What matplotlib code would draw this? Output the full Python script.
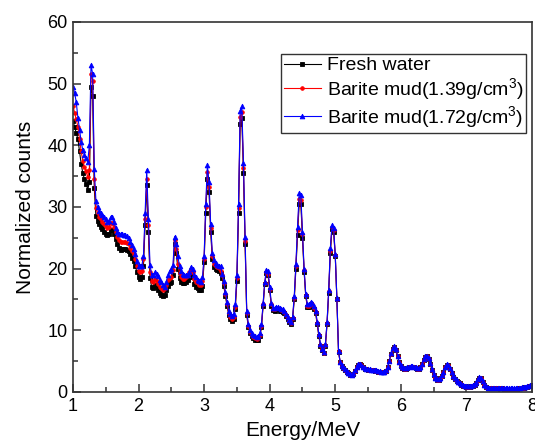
import numpy as np
import matplotlib
matplotlib.use("Agg")
import matplotlib.pyplot as plt
from matplotlib.ticker import MultipleLocator

plt.rcParams["font.family"] = ["Liberation Sans", "DejaVu Sans"]
plt.rcParams["mathtext.fontset"] = "custom"
plt.rcParams["mathtext.rm"] = "Liberation Sans"
plt.rcParams["mathtext.default"] = "regular"

# spectrum channels, 25 keV wide, from 1 to 8 MeV
E_START, E_STEP, N_CH = 1.0, 0.025, 281

fresh_water = [
    44.0, 43.0, 42.0, 41.0, 39.0, 37.0, 35.5, 34.5, 33.8, 32.8,
    34.0, 49.5, 48.0, 33.0, 28.5, 27.8, 27.2, 26.8, 26.4, 26.0,
    25.7, 25.4, 25.6, 26.2, 26.2, 25.6, 24.8, 24.0, 23.4, 23.1,
    23.2, 23.2, 23.2, 23.0, 22.8, 22.3, 21.8, 21.2, 20.5, 19.4,
    18.7, 18.4, 18.6, 20.5, 27.0, 33.5, 26.0, 18.5, 17.0, 16.8,
    17.3, 17.0, 16.5, 16.1, 15.8, 15.6, 15.8, 16.5, 17.2, 17.6,
    17.8, 19.0, 24.0, 22.5, 20.0, 18.5, 17.8, 17.6, 17.6, 17.8,
    18.2, 18.6, 19.2, 18.6, 17.5, 17.0, 16.8, 16.6, 16.6, 17.2,
    21.0, 29.0, 34.5, 32.5, 26.0, 21.5, 20.3, 20.0, 19.8, 19.6,
    19.3, 18.5, 17.2, 15.5, 14.0, 12.5, 11.8, 11.5, 11.8, 13.5,
    18.0, 29.0, 43.5, 44.5, 35.5, 24.0, 12.5, 10.5, 9.5, 9.0,
    8.7, 8.5, 8.4, 8.5, 9.0, 10.5, 14.0, 17.5, 19.3, 19.0,
    16.5, 14.0, 13.3, 13.2, 13.4, 13.4, 13.2, 13.1, 13.0, 12.8,
    12.3, 11.8, 11.3, 11.0, 11.8, 15.0, 20.0, 25.5, 30.5, 30.5,
    25.0, 19.5, 15.5, 13.8, 13.8, 14.2, 14.0, 13.5, 12.8, 11.0,
    9.0, 7.5, 6.8, 6.3, 7.5, 11.0, 16.0, 22.5, 26.5, 26.0,
    22.0, 15.0, 6.5, 4.8, 4.2, 3.9, 3.6, 3.3, 3.0, 2.8,
    2.7, 2.9, 3.4, 4.0, 4.4, 4.5, 4.3, 4.0, 3.8, 3.7,
    3.6, 3.6, 3.5, 3.5, 3.4, 3.4, 3.3, 3.3, 3.2, 3.2,
    3.2, 3.4, 4.0, 5.0, 6.2, 7.0, 7.3, 6.8, 5.8, 4.8,
    4.2, 3.9, 3.8, 3.8, 3.9, 4.0, 4.1, 4.1, 4.0, 3.9,
    3.8, 3.8, 4.0, 4.5, 5.2, 5.7, 5.8, 5.4, 4.6, 3.6,
    2.8, 2.2, 2.0, 2.0, 2.2, 2.6, 3.2, 4.0, 4.4, 4.3,
    3.8, 3.1, 2.5, 2.1, 1.8, 1.6, 1.4, 1.2, 1.0, 0.9,
    0.8, 0.8, 0.8, 0.9, 1.0, 1.2, 1.5, 2.0, 2.3, 2.2,
    1.7, 1.1, 0.8, 0.6, 0.6, 0.6, 0.6, 0.6, 0.6, 0.6,
    0.6, 0.6, 0.6, 0.55, 0.55, 0.5, 0.5, 0.5, 0.5, 0.5,
    0.5, 0.55, 0.6, 0.6, 0.65, 0.7, 0.75, 0.85, 0.95, 1.0,
    1.1,
]

barite_139 = [
    46.4, 45.3, 44.2, 43.0, 41.0, 39.0, 37.5, 36.5, 35.8, 34.8,
    36.0, 51.5, 50.5, 34.5, 29.8, 29.0, 28.4, 28.0, 27.6, 27.2,
    26.9, 26.6, 26.8, 27.4, 27.4, 26.8, 26.0, 25.2, 24.6, 24.3,
    24.4, 24.4, 24.4, 24.2, 24.0, 23.4, 22.9, 22.3, 21.5, 20.4,
    19.7, 19.4, 19.6, 21.5, 28.0, 34.6, 27.0, 19.5, 18.0, 17.8,
    18.3, 18.0, 17.5, 17.1, 16.8, 16.6, 16.8, 17.4, 18.1, 18.5,
    18.6, 19.8, 24.6, 23.2, 20.8, 19.3, 18.6, 18.4, 18.4, 18.6,
    19.0, 19.4, 20.0, 19.4, 18.3, 17.8, 17.6, 17.4, 17.4, 18.0,
    21.6, 30.0, 35.6, 33.3, 26.6, 22.1, 20.8, 20.5, 20.3, 20.1,
    19.7, 18.9, 17.6, 15.9, 14.3, 12.8, 12.1, 11.8, 12.1, 13.8,
    18.5, 29.8, 44.6, 45.4, 36.3, 24.5, 12.8, 10.7, 9.7, 9.2,
    8.9, 8.7, 8.6, 8.7, 9.2, 10.7, 14.2, 17.7, 19.5, 19.2,
    16.7, 14.2, 13.5, 13.4, 13.6, 13.6, 13.4, 13.3, 13.2, 13.0,
    12.5, 12.0, 11.5, 11.2, 12.0, 15.3, 20.5, 26.2, 31.3, 31.2,
    25.6, 19.8, 15.7, 14.0, 14.0, 14.4, 14.2, 13.7, 13.0, 11.2,
    9.2, 7.6, 6.9, 6.4, 7.6, 11.2, 16.3, 22.9, 26.8, 26.3,
    22.2, 15.1, 6.6, 4.8, 4.2, 3.9, 3.6, 3.3, 3.0, 2.8,
    2.7, 2.9, 3.4, 4.0, 4.4, 4.5, 4.3, 4.0, 3.8, 3.7,
    3.6, 3.6, 3.5, 3.5, 3.4, 3.4, 3.3, 3.3, 3.2, 3.2,
    3.2, 3.4, 4.0, 5.0, 6.2, 7.0, 7.3, 6.8, 5.8, 4.8,
    4.2, 3.9, 3.8, 3.8, 3.9, 4.0, 4.1, 4.1, 4.0, 3.9,
    3.8, 3.8, 4.0, 4.5, 5.2, 5.7, 5.8, 5.4, 4.6, 3.6,
    2.8, 2.2, 2.0, 2.0, 2.2, 2.6, 3.2, 4.0, 4.4, 4.3,
    3.8, 3.1, 2.5, 2.1, 1.8, 1.6, 1.4, 1.2, 1.0, 0.9,
    0.8, 0.8, 0.8, 0.9, 1.0, 1.2, 1.5, 2.0, 2.3, 2.2,
    1.7, 1.1, 0.8, 0.6, 0.6, 0.6, 0.6, 0.6, 0.6, 0.6,
    0.6, 0.6, 0.6, 0.55, 0.55, 0.5, 0.5, 0.5, 0.5, 0.5,
    0.5, 0.55, 0.6, 0.6, 0.65, 0.7, 0.75, 0.85, 0.95, 1.0,
    1.1,
]

barite_172 = [
    49.5, 48.5, 47.0, 44.5, 42.5, 40.6, 39.2, 38.5, 38.0, 37.3,
    40.0, 53.0, 51.6, 36.2, 31.0, 30.0, 29.4, 29.0, 28.7, 28.3,
    28.0, 27.6, 27.8, 28.4, 28.3, 27.5, 26.6, 25.9, 25.7, 25.6,
    25.6, 25.5, 25.4, 25.3, 25.0, 24.4, 23.8, 23.2, 22.3, 21.2,
    20.5, 20.4, 20.5, 22.0, 29.0, 36.0, 28.0, 20.6, 19.0, 19.0,
    19.4, 19.2, 18.8, 18.2, 17.9, 17.4, 17.0, 17.9, 19.0, 19.6,
    20.0, 20.6, 25.2, 24.0, 22.0, 20.4, 19.6, 19.2, 19.0, 19.0,
    19.0, 19.5, 20.3, 20.0, 19.0, 18.6, 18.2, 18.0, 17.9, 18.6,
    22.0, 30.5, 36.8, 34.0, 27.2, 22.6, 21.4, 20.9, 20.6, 20.5,
    20.4, 19.2, 18.0, 16.2, 14.6, 13.1, 12.6, 12.3, 12.6, 14.2,
    19.0, 30.5, 45.5, 46.3, 37.2, 25.2, 13.2, 11.0, 10.0, 9.5,
    9.2, 9.0, 8.9, 9.0, 9.5, 11.0, 14.4, 17.9, 19.8, 19.6,
    17.1, 14.4, 13.7, 13.6, 13.8, 13.8, 13.6, 13.5, 13.4, 13.2,
    12.7, 12.2, 11.7, 11.4, 12.2, 15.6, 20.8, 26.8, 32.2, 32.0,
    26.0, 20.0, 15.9, 14.2, 14.2, 14.6, 14.4, 13.9, 13.2, 11.4,
    9.4, 7.8, 7.0, 6.5, 7.8, 11.4, 16.6, 23.3, 27.0, 26.6,
    22.4, 15.2, 6.7, 4.9, 4.3, 4.0, 3.7, 3.4, 3.1, 2.9,
    2.8, 3.0, 3.5, 4.1, 4.5, 4.6, 4.4, 4.1, 3.9, 3.8,
    3.7, 3.7, 3.6, 3.6, 3.5, 3.5, 3.4, 3.4, 3.3, 3.3,
    3.3, 3.5, 4.1, 5.1, 6.3, 7.1, 7.4, 6.9, 5.9, 4.9,
    4.3, 4.0, 3.9, 3.9, 4.0, 4.1, 4.2, 4.2, 4.1, 4.0,
    3.9, 3.9, 4.1, 4.6, 5.3, 5.8, 5.9, 5.5, 4.7, 3.7,
    2.9, 2.3, 2.1, 2.1, 2.3, 2.7, 3.3, 4.1, 4.5, 4.4,
    3.9, 3.2, 2.6, 2.2, 1.9, 1.7, 1.5, 1.3, 1.1, 1.0,
    0.9, 0.9, 0.9, 1.0, 1.1, 1.3, 1.6, 2.1, 2.4, 2.3,
    1.8, 1.2, 0.9, 0.7, 0.7, 0.7, 0.7, 0.7, 0.7, 0.7,
    0.7, 0.7, 0.7, 0.65, 0.65, 0.6, 0.6, 0.6, 0.6, 0.6,
    0.6, 0.65, 0.7, 0.7, 0.75, 0.8, 0.85, 0.95, 1.05, 1.1,
    1.2,
]

labels = ["Fresh water",
          "Barite mud(1.39g/cm$^3$)",
          "Barite mud(1.72g/cm$^3$)"]
colors = ["black", "red", "blue"]
markers = ["s", "o", "^"]
msizes = [2.3, 2.6, 3.4]

energy = E_START + E_STEP * np.arange(N_CH)

fig = plt.figure(figsize=(5.35, 4.46), dpi=100, facecolor="white")
ax = fig.add_axes([0.1364, 0.1211, 0.8579, 0.8296])

for y, lab, c, m, ms in zip([fresh_water, barite_139, barite_172],
                            labels, colors, markers, msizes):
    ax.plot(energy, y, color=c, marker=m, markersize=ms, linewidth=0.8,
            markeredgewidth=0.6, label=lab)

ax.set_xlim(1, 8)
ax.set_ylim(0, 60)
ax.xaxis.set_major_locator(MultipleLocator(1))
ax.xaxis.set_minor_locator(MultipleLocator(0.5))
ax.yaxis.set_major_locator(MultipleLocator(10))
ax.yaxis.set_minor_locator(MultipleLocator(5))
ax.tick_params(which="both", direction="in", top=False, right=False,
               width=1.1, colors="#333333", labelcolor="black",
               labelsize=13, pad=4)
ax.tick_params(which="major", length=6)
ax.tick_params(which="minor", length=3.5)
for sp in ax.spines.values():
    sp.set_linewidth(1.2)
    sp.set_color("#333333")

ax.set_xlabel("Energy/MeV", fontsize=15, labelpad=5)
ax.set_ylabel("Normalized counts", fontsize=15, labelpad=9)

leg = ax.legend(loc="upper right", bbox_to_anchor=(0.987, 0.914),
                borderaxespad=0, fontsize=14, frameon=True, fancybox=False,
                edgecolor="black", handlelength=1.9, handletextpad=0.3,
                labelspacing=0.1, borderpad=0.15, numpoints=1,
                markerscale=1.0)
leg.get_frame().set_linewidth(1.0)

fig.savefig("out.png", dpi=100)
